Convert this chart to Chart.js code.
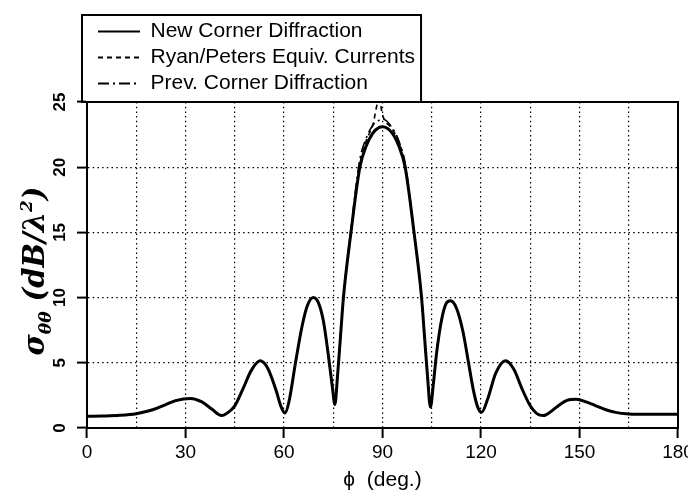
<!DOCTYPE html>
<html>
<head>
<meta charset="utf-8">
<title>RCS vs phi</title>
<script src="https://cdn.jsdelivr.net/npm/chart.js@4.4.0/dist/chart.umd.min.js"></script>
<style>
  html, body { margin: 0; padding: 0; background: #fff; }
  #wrap { width: 688px; height: 497px; }
</style>
</head>
<body>
<div id="wrap"><canvas id="rcsChart" width="688" height="497"></canvas></div>
<script>
// phi samples (deg)
const phiDeg = [0, 5, 10, 15, 20, 24, 27, 31.5, 35, 38,
  41, 43, 45, 47.5, 50, 52.7, 55, 57.7, 59, 60.3,
  61.5, 63.5, 65.5, 67, 68.9, 70.5, 72, 73.5, 74.7, 75.5,
  76.3, 77.2, 78.1, 80.4, 83.1, 85, 87, 89, 90, 93,
  95, 96.9, 99.6, 101.9, 102.8, 103.7, 104.6, 105.5, 106.5, 108,
  109.3, 110.7, 112.5, 114.5, 116.2, 117.6, 119, 120.2, 122, 124.5,
  127.5, 130, 132.5, 135, 137, 139, 141, 143, 146, 149,
  152, 155, 158, 161, 165, 170, 175, 180];

// sigma_theta_theta (dB/lambda^2)
const newCorner = [0.90, 0.92, 0.97, 1.10, 1.40, 1.80, 2.10, 2.27, 2.00, 1.45,
  0.95, 1.20, 1.70, 3.00, 4.40, 5.15, 4.60, 2.80, 1.70, 1.15,
  2.00, 5.00, 7.80, 9.30, 10.00, 9.60, 8.20, 5.60, 3.20, 1.80,
  4.00, 7.00, 10.00, 15.00, 20.00, 21.60, 22.60, 23.05, 23.10, 22.60,
  21.60, 20.00, 15.00, 10.00, 7.00, 4.00, 1.60, 3.40, 5.80, 8.30,
  9.50, 9.75, 9.20, 7.40, 5.00, 3.00, 1.60, 1.20, 2.20, 4.20,
  5.15, 4.50, 3.00, 1.70, 1.10, 0.95, 1.20, 1.60, 2.10, 2.20,
  2.00, 1.70, 1.40, 1.20, 1.08, 1.05, 1.05, 1.05];

const ryanPeters = [0.90, 0.92, 0.97, 1.10, 1.40, 1.80, 2.10, 2.27, 2.00, 1.45,
  0.95, 1.20, 1.70, 3.00, 4.40, 5.15, 4.60, 2.80, 1.70, 1.15,
  2.00, 5.00, 7.80, 9.30, 10.00, 9.60, 8.20, 5.60, 3.20, 1.80,
  4.00, 7.00, 10.00, 15.00, 20.20, 22.00, 23.20, 25.20, 24.00, 22.90,
  21.90, 20.20, 15.00, 10.00, 7.00, 4.00, 1.60, 3.40, 5.80, 8.30,
  9.50, 9.75, 9.20, 7.40, 5.00, 3.00, 1.60, 1.20, 2.20, 4.20,
  5.15, 4.50, 3.00, 1.70, 1.10, 0.95, 1.20, 1.60, 2.10, 2.20,
  2.00, 1.70, 1.40, 1.20, 1.08, 1.05, 1.05, 1.05];

const prevCorner = [0.90, 0.92, 0.97, 1.10, 1.40, 1.80, 2.10, 2.27, 2.00, 1.45,
  0.95, 1.20, 1.70, 3.00, 4.40, 5.15, 4.60, 2.80, 1.70, 1.15,
  2.00, 5.00, 7.80, 9.30, 10.00, 9.60, 8.20, 5.60, 3.20, 1.80,
  4.00, 7.00, 10.00, 15.30, 20.60, 22.20, 23.20, 23.60, 23.70, 23.00,
  22.00, 20.30, 15.00, 10.00, 7.00, 4.00, 1.60, 3.40, 5.80, 8.30,
  9.50, 9.75, 9.20, 7.40, 5.00, 3.00, 1.60, 1.20, 2.20, 4.20,
  5.15, 4.50, 3.00, 1.70, 1.10, 0.95, 1.20, 1.60, 2.10, 2.20,
  2.00, 1.70, 1.40, 1.20, 1.08, 1.05, 1.05, 1.05];

const seriesNames = ['New Corner Diffraction', 'Ryan/Peters Equiv. Currents', 'Prev. Corner Diffraction'];
const seriesDash = [[], [5, 4], [11, 4, 2, 4]];
const xTickLabels = [0, 30, 60, 90, 120, 150, 180];
const yTickLabels = [0, 5, 10, 15, 20, 25];

const LEGEND_W = 330;
const LEGEND_H = 86;
const LEGEND_FONT = 21;

Chart.defaults.font.family = '"Liberation Sans", Arial, sans-serif';
Chart.defaults.color = '#000';

function toPoints(values) {
  return phiDeg.map((p, i) => ({ x: p, y: values[i] }));
}

// legend: one entry per row, framed box sitting on the plot's top edge
const legendFrame = {
  id: 'legendFrame',
  beforeLayout(chart) {
    const lg = chart.legend;
    if (!lg || lg._rowFit) return;
    const baseFit = lg.fit;
    lg.fit = function () {
      const full = this.maxWidth;
      this.maxWidth = LEGEND_W;
      baseFit.call(this);
      this.maxWidth = full;
      this.height = LEGEND_H;
    };
    lg._rowFit = true;
  },
  afterLayout(chart) {
    const lg = chart.legend;
    lg.left = chart.chartArea.left + 6;
    lg.width = LEGEND_W;
    lg.right = lg.left + LEGEND_W;
  },
  afterDraw(chart) {
    const lg = chart.legend, area = chart.chartArea, ctx = chart.ctx;
    ctx.save();
    ctx.font = LEGEND_FONT + 'px ' + Chart.defaults.font.family;
    let maxW = 0;
    seriesNames.forEach(s => { maxW = Math.max(maxW, ctx.measureText(s).width); });
    const left = area.left - 5;
    const right = lg.left + 5 + 42 + LEGEND_FONT / 2 + maxW + 6;
    ctx.strokeStyle = '#000';
    ctx.lineWidth = 2;
    ctx.strokeRect(left, lg.top - 1, right - left, area.top - lg.top + 1);
    ctx.restore();
  }
};

// y title with sub/superscripts, rotated
const yTitle = {
  id: 'yTitle',
  afterDraw(chart) {
    const ctx = chart.ctx;
    const big = 'bold italic 29px "DejaVu Serif"';
    const small = 'bold italic 17px "DejaVu Serif"';
    const parts = [
      { t: 'σ', f: big, dy: 0 },
      { t: 'θθ', f: small, dy: 7 },
      { t: ' (dB/λ', f: big, dy: 0 },
      { t: '2', f: small, dy: -12 },
      { t: ')', f: big, dy: 0 }
    ];
    ctx.save();
    let total = 0;
    parts.forEach(p => { ctx.font = p.f; p.w = ctx.measureText(p.t).width; total += p.w; });
    const area = chart.chartArea;
    ctx.translate(37, (area.top + area.bottom) / 2 + 6);
    ctx.rotate(-Math.PI / 2);
    ctx.fillStyle = '#000';
    ctx.textBaseline = 'alphabetic';
    let x = -total / 2;
    parts.forEach(p => { ctx.font = p.f; ctx.fillText(p.t, x, 7 + p.dy); x += p.w; });
    ctx.restore();
  }
};

const gridDash = [1.5, 3.2];

const rcsChart = new Chart(document.getElementById('rcsChart'), {
  type: 'line',
  data: {
    datasets: [
      {
        label: seriesNames[0],
        data: toPoints(newCorner),
        borderColor: '#000',
        backgroundColor: '#000',
        borderWidth: 3,
        borderDash: seriesDash[0],
        pointRadius: 0,
        cubicInterpolationMode: 'monotone'
      },
      {
        label: seriesNames[1],
        data: toPoints(ryanPeters),
        borderColor: '#000',
        backgroundColor: '#000',
        borderWidth: 1.6,
        borderDash: seriesDash[1],
        pointRadius: 0,
        cubicInterpolationMode: 'monotone'
      },
      {
        label: seriesNames[2],
        data: toPoints(prevCorner),
        borderColor: '#000',
        backgroundColor: '#000',
        borderWidth: 1.6,
        borderDash: seriesDash[2],
        pointRadius: 0,
        cubicInterpolationMode: 'monotone'
      }
    ]
  },
  options: {
    responsive: false,
    animation: false,
    devicePixelRatio: 1,
    layout: { padding: { top: 16, right: 10, bottom: 0, left: 0 } },
    plugins: {
      tooltip: { enabled: false },
      legend: {
        position: 'top',
        align: 'start',
        fullSize: false,
        labels: {
          color: '#000',
          font: { size: LEGEND_FONT },
          padding: 5,
          usePointStyle: true,
          pointStyle: 'line',
          pointStyleWidth: 42,
          generateLabels(chart) {
            return Chart.defaults.plugins.legend.labels.generateLabels(chart)
              .map((l, i) => Object.assign(l, {
                lineWidth: 1.8,
                pointStyle: 'line',
                lineDash: seriesDash[i]
              }));
          }
        }
      }
    },
    scales: {
      x: {
        type: 'linear',
        position: 'bottom',
        min: 0,
        max: 180,
        ticks: {
          stepSize: 15,
          autoSkip: false,
          maxRotation: 0,
          padding: 3,
          color: '#000',
          font: { family: '"Liberation Sans Narrow", "Liberation Sans", sans-serif', size: 19 },
          callback: v => xTickLabels.includes(v) ? String(v) : ''
        },
        grid: {
          color: '#000',
          lineWidth: 1.2,
          tickLength: 10,
          tickWidth: 2,
          tickColor: c => (c.tick && xTickLabels.includes(c.tick.value)) ? '#000' : 'rgba(0,0,0,0)'
        },
        border: { display: true, color: '#000', width: 2, dash: gridDash },
        title: {
          display: true,
          text: 'ϕ  (deg.)',
          color: '#000',
          font: { size: 21 },
          padding: { top: 0, bottom: 4 }
        },
        afterFit(scale) { scale.height = 69; scale.paddingLeft = 0; scale.paddingRight = 0; }
      },
      y: {
        type: 'linear',
        position: 'left',
        min: 0,
        max: 25,
        ticks: {
          stepSize: 5,
          autoSkip: false,
          minRotation: 90,
          maxRotation: 90,
          crossAlign: 'center',
          padding: 7,
          color: '#000',
          font: { family: '"Liberation Sans Narrow", "Liberation Sans", sans-serif', size: 17, weight: 'bold' },
          callback: v => yTickLabels.includes(v) ? String(v) : ''
        },
        grid: { color: '#000', lineWidth: 1.2, tickLength: 10, tickWidth: 2, tickColor: '#000' },
        border: { display: true, color: '#000', width: 2, dash: gridDash },
        afterFit(scale) { scale.width = 87; scale.paddingTop = 0; scale.paddingBottom = 0; }
      },
      xTop: {
        type: 'linear',
        position: 'top',
        min: 0,
        max: 180,
        ticks: { display: false },
        grid: { display: false, drawTicks: false },
        border: { display: true, color: '#000', width: 2 },
        afterFit(scale) { scale.height = 0; scale.paddingLeft = 0; scale.paddingRight = 0; }
      },
      yRight: {
        type: 'linear',
        position: 'right',
        min: 0,
        max: 25,
        ticks: { display: false },
        grid: { display: false, drawTicks: false },
        border: { display: true, color: '#000', width: 2 },
        afterFit(scale) { scale.width = 0; scale.paddingTop = 0; scale.paddingBottom = 0; }
      }
    }
  },
  plugins: [legendFrame, yTitle]
});
</script>
</body>
</html>
